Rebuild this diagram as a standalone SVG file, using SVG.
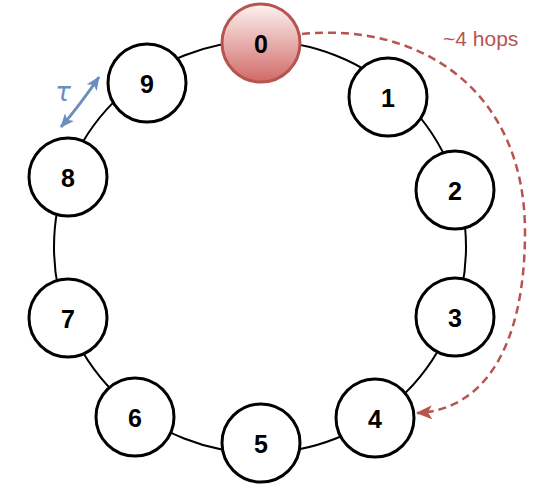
<svg xmlns="http://www.w3.org/2000/svg" width="548" height="489" viewBox="0 0 548 489">
<style>
.node circle{fill:#fff;stroke:#000;stroke-width:3}
.node text{font-family:"Liberation Sans",Arial,sans-serif;font-weight:bold;font-size:25px;text-anchor:middle;dominant-baseline:central;fill:#000}
#n0 circle{fill:url(#g0);stroke:#b85450}
.ring{fill:none;stroke:#000;stroke-width:2}
.hop{fill:none;stroke:#b85450;stroke-width:2.5;stroke-dasharray:8 5}
.tau{fill:none;stroke:#6c8ebf;stroke-width:3}
</style>
<defs>
<linearGradient id="g0" x1="0" y1="0" x2="0" y2="1">
<stop offset="0" stop-color="#fdf3f2"/>
<stop offset="1" stop-color="#d06a66"/>
</linearGradient>
<marker id="ar" viewBox="0 0 16 14" refX="15" refY="7" markerWidth="16" markerHeight="14" markerUnits="userSpaceOnUse" orient="auto">
<path d="M0,0 L16,7 L0,14 L4,7 Z" fill="#b85450"/>
</marker>
<marker id="ab" viewBox="0 0 14 12" refX="13" refY="6" markerWidth="14" markerHeight="12" markerUnits="userSpaceOnUse" orient="auto-start-reverse">
<path d="M0,0 L14,6 L0,12 L3.5,6 Z" fill="#6c8ebf"/>
</marker>
</defs>
<g id="connectors">
<circle class="ring" cx="260" cy="247" r="206"/>
<path class="hop" d="M302,34 C420,22 525,90 525,232 C525,345 485,410 417,413" marker-end="url(#ar)"/>
<path class="tau" d="M61,127 Q80,105 99,77" marker-start="url(#ab)" marker-end="url(#ab)"/>
</g>
<text x="443" y="46" font-family="Liberation Sans,Arial,sans-serif" font-size="21" fill="#b85450">~4 hops</text>
<text x="63" y="101" font-family="DejaVu Sans,sans-serif" font-style="italic" font-size="26" fill="#6c8ebf" text-anchor="middle">τ</text>
<g id="n0" class="node"><circle cx="261" cy="43" r="39"/><text x="261" y="44">0</text></g>
<g id="n1" class="node"><circle cx="388" cy="97" r="39"/><text x="388" y="98">1</text></g>
<g id="n2" class="node"><circle cx="455" cy="190" r="39"/><text x="455" y="191">2</text></g>
<g id="n3" class="node"><circle cx="455" cy="317" r="39"/><text x="455" y="318">3</text></g>
<g id="n4" class="node"><circle cx="375" cy="418" r="39"/><text x="375" y="419">4</text></g>
<g id="n5" class="node"><circle cx="261" cy="443" r="39"/><text x="261" y="444">5</text></g>
<g id="n6" class="node"><circle cx="135" cy="417" r="39"/><text x="135" y="418">6</text></g>
<g id="n7" class="node"><circle cx="68" cy="318" r="39"/><text x="68" y="319">7</text></g>
<g id="n8" class="node"><circle cx="68" cy="177" r="39"/><text x="68" y="178">8</text></g>
<g id="n9" class="node"><circle cx="147" cy="83" r="39"/><text x="147" y="84">9</text></g>
</svg>
